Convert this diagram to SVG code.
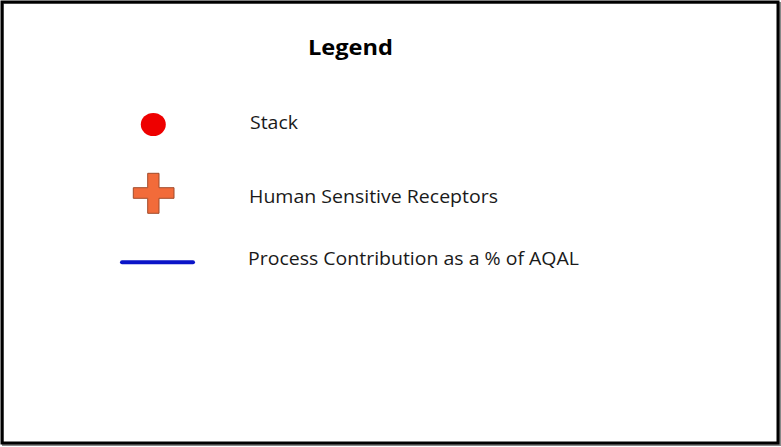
<svg xmlns="http://www.w3.org/2000/svg" width="781" height="447" viewBox="0 0 781 447">
<style>
.t{font-family:"Open Sans","Liberation Sans",sans-serif;font-size:18px;fill:#1a1a1a}
.h{font-family:"Open Sans","Liberation Sans",sans-serif;font-size:21px;font-weight:bold;fill:#000}
</style>
<rect x="0" y="0" width="781" height="447" fill="#fff"/>
<rect x="3" y="3" width="777" height="442" fill="none" stroke="#888" stroke-width="2"/>
<rect x="2" y="2" width="776" height="441" fill="none" stroke="#000" stroke-width="3"/>
<g id="title"><text class="h" x="308" y="55" textLength="85" lengthAdjust="spacingAndGlyphs">Legend</text></g>
<g id="stack">
<ellipse cx="153.3" cy="124.5" rx="12.5" ry="11.5" fill="#ee0000"/>
<text class="t" x="250" y="129" textLength="48" lengthAdjust="spacingAndGlyphs">Stack</text>
</g>
<g id="receptors">
<path d="M147.7,173.3 H159 V187.7 H174 V198.3 H159 V213.3 H147.7 V198.3 H133.3 V187.7 H147.7 Z" fill="#f26b3a" stroke="#a04a2a" stroke-width="1"/>
<text class="t" x="249" y="203" textLength="249" lengthAdjust="spacingAndGlyphs">Human Sensitive Receptors</text>
</g>
<g id="contribution">
<line x1="122" y1="262.3" x2="193" y2="262.3" stroke="#0a14c8" stroke-width="4" stroke-linecap="round"/>
<text class="t" x="248" y="265" textLength="331" lengthAdjust="spacingAndGlyphs">Process Contribution as a % of AQAL</text>
</g>
<g id="connectors"/>
</svg>
